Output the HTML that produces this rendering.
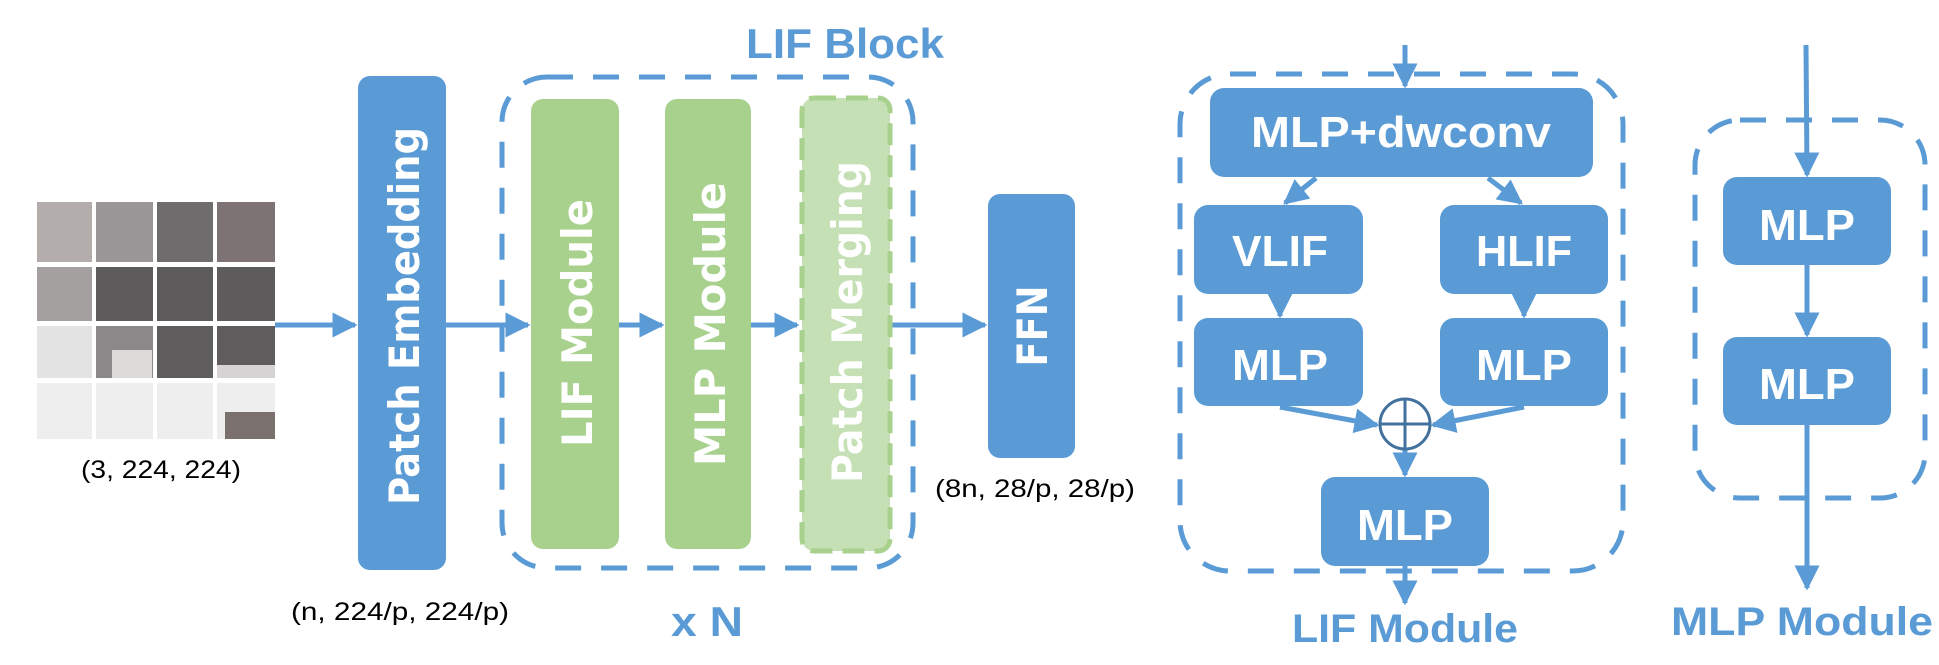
<!DOCTYPE html>
<html><head><meta charset="utf-8"><style>
html,body{margin:0;padding:0;background:#fff;}
svg{display:block;}
.vt{font-family:"DejaVu Sans",sans-serif;font-weight:bold;fill:#fff;}
.bt{font-family:"Liberation Sans",sans-serif;font-weight:bold;fill:#fff;}
.lb{font-family:"Liberation Sans",sans-serif;font-weight:bold;fill:#5b9bd5;}
.bk{font-family:"Liberation Sans",sans-serif;fill:#000;}
</style></head><body>
<svg width="1939" height="665" viewBox="0 0 1939 665" xmlns="http://www.w3.org/2000/svg">
<defs>
<marker id="ah" markerWidth="5" markerHeight="5" refX="4.5" refY="2.5" orient="auto" markerUnits="strokeWidth">
<path d="M0,0 L5,2.5 L0,5 z" fill="#5b9bd5"/></marker>
</defs>
<!-- cat grid -->
<g>
<rect x="37" y="202" width="238" height="237" fill="#8a8788"/>
<rect x="37" y="202" width="60" height="62" fill="#b3aeac"/>
<rect x="96" y="202" width="60" height="62" fill="#9a9697"/>
<rect x="156" y="202" width="60" height="62" fill="#6f6c6e"/>
<rect x="216" y="202" width="59" height="62" fill="#7d7274"/>
<rect x="37" y="264" width="60" height="60" fill="#a4a09f"/>
<rect x="96" y="264" width="179" height="60" fill="#5e5b5d"/>
<rect x="37" y="324" width="60" height="56" fill="#e4e3e3"/>
<rect x="96" y="324" width="60" height="56" fill="#8c8889"/>
<rect x="112" y="350" width="40" height="28" fill="#dddada"/>
<rect x="156" y="324" width="119" height="56" fill="#5f5c5e"/>
<rect x="216" y="365" width="59" height="15" fill="#d5d3d3"/>
<rect x="37" y="380" width="238" height="59" fill="#efeeee"/>
<rect x="225" y="412" width="50" height="27" fill="#7a706e"/>
<g fill="#fff">
<rect x="92" y="202" width="4" height="237"/>
<rect x="153" y="202" width="4" height="237"/>
<rect x="213" y="202" width="4" height="237"/>
<rect x="37" y="262" width="238" height="5"/>
<rect x="37" y="321" width="238" height="5"/>
<rect x="37" y="378" width="238" height="5"/>
</g>
</g>
<text class="bk" x="161" y="478" font-size="25" text-anchor="middle" textLength="160" lengthAdjust="spacingAndGlyphs">(3, 224, 224)</text>

<g stroke="#5b9bd5" stroke-width="5" fill="none" marker-end="url(#ah)">
<line x1="275" y1="325" x2="355" y2="325"/>
<line x1="446" y1="325" x2="528" y2="325"/>
<line x1="619" y1="325" x2="662" y2="325"/>
<line x1="751" y1="325" x2="797" y2="325"/>
<line x1="891" y1="325" x2="985" y2="325"/>
</g>

<rect x="358" y="76" width="88" height="494" rx="12" fill="#5b9bd5"/>
<text class="vt" transform="translate(419,316) rotate(-90)" font-size="42" text-anchor="middle" textLength="378" lengthAdjust="spacingAndGlyphs">Patch Embedding</text>

<rect x="502" y="77" width="411" height="491" rx="45" fill="none" stroke="#5b9bd5" stroke-width="5" stroke-dasharray="26 20"/>
<rect x="531" y="99" width="88" height="450" rx="12" fill="#a9d18e"/>
<text class="vt" transform="translate(592,323) rotate(-90)" font-size="42" text-anchor="middle" textLength="248" lengthAdjust="spacingAndGlyphs">LIF Module</text>
<rect x="665" y="99" width="86" height="450" rx="12" fill="#a9d18e"/>
<text class="vt" transform="translate(725,324) rotate(-90)" font-size="42" text-anchor="middle" textLength="284" lengthAdjust="spacingAndGlyphs">MLP Module</text>
<rect x="802" y="98" width="88" height="453" rx="12" fill="#c5e0b4" stroke="#a9d18e" stroke-width="5" stroke-dasharray="22 10"/>
<text class="vt" transform="translate(862,322) rotate(-90)" font-size="42" text-anchor="middle" textLength="322" lengthAdjust="spacingAndGlyphs">Patch Merging</text>
<text class="lb" x="845" y="58" font-size="42" text-anchor="middle" textLength="198" lengthAdjust="spacingAndGlyphs">LIF Block</text>
<text class="lb" x="707" y="636" font-size="42" text-anchor="middle" textLength="72" lengthAdjust="spacingAndGlyphs">x N</text>
<text class="bk" x="400" y="620" font-size="25" text-anchor="middle" textLength="218" lengthAdjust="spacingAndGlyphs">(n, 224/p, 224/p)</text>

<rect x="988" y="194" width="87" height="264" rx="12" fill="#5b9bd5"/>
<text class="vt" transform="translate(1047,326) rotate(-90)" font-size="42" text-anchor="middle" textLength="81" lengthAdjust="spacingAndGlyphs">FFN</text>
<text class="bk" x="1035" y="497" font-size="25" text-anchor="middle" textLength="200" lengthAdjust="spacingAndGlyphs">(8n, 28/p, 28/p)</text>

<rect x="1180" y="74" width="443" height="497" rx="50" fill="none" stroke="#5b9bd5" stroke-width="5" stroke-dasharray="26 20"/>
<g stroke="#5b9bd5" stroke-width="5" fill="none" marker-end="url(#ah)">
<line x1="1405" y1="45" x2="1405" y2="86"/>
<line x1="1316" y1="178" x2="1285" y2="203"/>
<line x1="1488" y1="178" x2="1521" y2="203"/>
<line x1="1280" y1="294" x2="1280" y2="316"/>
<line x1="1524" y1="294" x2="1524" y2="316"/>
<line x1="1280" y1="407" x2="1377" y2="425"/>
<line x1="1524" y1="407" x2="1433" y2="425"/>
<line x1="1405" y1="450" x2="1405" y2="475"/>
<line x1="1405" y1="566" x2="1405" y2="603"/>
</g>
<rect x="1210" y="88" width="383" height="89" rx="14" fill="#5b9bd5"/>
<text class="bt" x="1401" y="147" font-size="44" text-anchor="middle" textLength="300" lengthAdjust="spacingAndGlyphs">MLP+dwconv</text>
<rect x="1194" y="205" width="169" height="89" rx="14" fill="#5b9bd5"/>
<text class="bt" x="1280" y="266" font-size="44" text-anchor="middle" textLength="96" lengthAdjust="spacingAndGlyphs">VLIF</text>
<rect x="1440" y="205" width="168" height="89" rx="14" fill="#5b9bd5"/>
<text class="bt" x="1524" y="266" font-size="44" text-anchor="middle" textLength="96" lengthAdjust="spacingAndGlyphs">HLIF</text>
<rect x="1194" y="318" width="169" height="88" rx="14" fill="#5b9bd5"/>
<text class="bt" x="1280" y="380" font-size="44" text-anchor="middle" textLength="96" lengthAdjust="spacingAndGlyphs">MLP</text>
<rect x="1440" y="318" width="168" height="88" rx="14" fill="#5b9bd5"/>
<text class="bt" x="1524" y="380" font-size="44" text-anchor="middle" textLength="96" lengthAdjust="spacingAndGlyphs">MLP</text>
<circle cx="1405" cy="424" r="25" fill="#fff" stroke="#41719c" stroke-width="3"/>
<line x1="1380" y1="424" x2="1430" y2="424" stroke="#41719c" stroke-width="3"/>
<line x1="1405" y1="399" x2="1405" y2="449" stroke="#41719c" stroke-width="3"/>
<rect x="1321" y="477" width="168" height="89" rx="14" fill="#5b9bd5"/>
<text class="bt" x="1405" y="540" font-size="44" text-anchor="middle" textLength="96" lengthAdjust="spacingAndGlyphs">MLP</text>
<text class="lb" x="1405" y="642" font-size="40" text-anchor="middle" textLength="226" lengthAdjust="spacingAndGlyphs">LIF Module</text>

<rect x="1695" y="120" width="230" height="378" rx="45" fill="none" stroke="#5b9bd5" stroke-width="5" stroke-dasharray="26 20"/>
<g stroke="#5b9bd5" stroke-width="5" fill="none" marker-end="url(#ah)">
<line x1="1806" y1="45" x2="1807" y2="175"/>
<line x1="1807" y1="265" x2="1807" y2="335"/>
<line x1="1807" y1="425" x2="1807" y2="588"/>
</g>
<rect x="1723" y="177" width="168" height="88" rx="14" fill="#5b9bd5"/>
<text class="bt" x="1807" y="240" font-size="44" text-anchor="middle" textLength="96" lengthAdjust="spacingAndGlyphs">MLP</text>
<rect x="1723" y="337" width="168" height="88" rx="14" fill="#5b9bd5"/>
<text class="bt" x="1807" y="399" font-size="44" text-anchor="middle" textLength="96" lengthAdjust="spacingAndGlyphs">MLP</text>
<text class="lb" x="1802" y="635" font-size="40" text-anchor="middle" textLength="262" lengthAdjust="spacingAndGlyphs">MLP Module</text>
</svg>
</body></html>
